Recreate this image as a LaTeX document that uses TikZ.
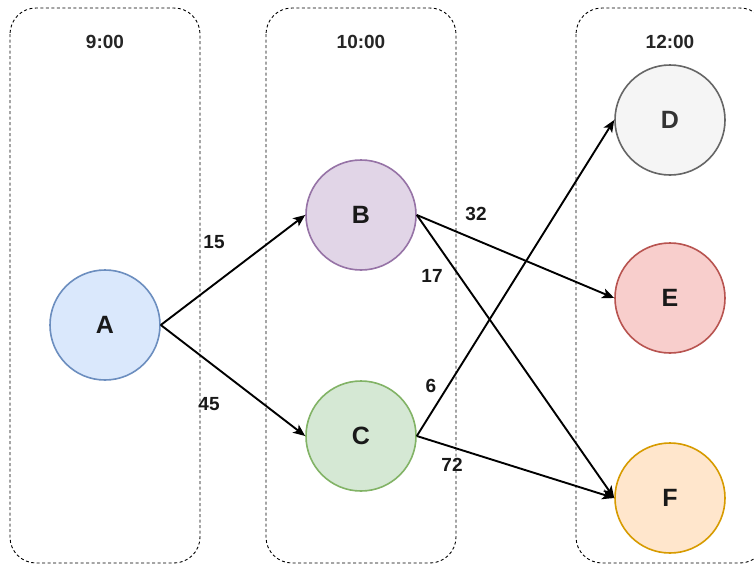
\documentclass[tikz,border=0pt]{standalone}
\usepackage{fontspec}
\setmainfont{Liberation Sans}
\usetikzlibrary{arrows.meta}
\definecolor{afill}{HTML}{DAE8FC}\definecolor{aline}{HTML}{6C8EBF}
\definecolor{bfill}{HTML}{E1D5E7}\definecolor{bline}{HTML}{9673A6}
\definecolor{cfill}{HTML}{D5E8D4}\definecolor{cline}{HTML}{82B366}
\definecolor{dfill}{HTML}{F5F5F5}\definecolor{dline}{HTML}{666666}\definecolor{dtext}{HTML}{333333}
\definecolor{efill}{HTML}{F8CECC}\definecolor{eline}{HTML}{B85450}
\definecolor{ffill}{HTML}{FFE6CC}\definecolor{fline}{HTML}{D79B00}
\tikzset{
  lane/.style={draw=black, line width=0.9pt, dash pattern=on 3pt off 2.5pt, rounded corners=26pt},
  lanelabel/.style={font=\fontsize{19}{21}\selectfont\bfseries, text=black!85},
  state/.style={circle, minimum size=110pt, inner sep=0pt, line width=1.6pt, font=\fontsize{25}{27}\selectfont\bfseries, text=black!90},
  arr/.style={line width=1.9pt, -{Stealth[length=12pt,width=10pt,inset=3pt]}},
  wlabel/.style={font=\fontsize{19}{21}\selectfont\bfseries, text=black!90, inner sep=0pt},
}
\begin{document}
\begin{tikzpicture}[x=1pt,y=-1pt]
\useasboundingbox (0,0) rectangle (754,565);
\fill[white] (0,0) rectangle (754,565);
% lanes
\draw[lane] (10,8) rectangle (200,563);
\draw[lane] (266,8) rectangle (456,563);
\draw[lane] (576,8) rectangle (766,563);
\node[lanelabel] (l9) at (105,42) {9:00};
\node[lanelabel] (l10) at (361,42) {10:00};
\node[lanelabel] (l12) at (670,42) {12:00};
% states
\node[state, draw=aline, fill=afill] (A) at (105,325) {A};
\node[state, draw=bline, fill=bfill] (B) at (361,215) {B};
\node[state, draw=cline, fill=cfill] (C) at (361,436) {C};
\node[state, draw=dline, fill=dfill, text=dtext] (D) at (670,120) {D};
\node[state, draw=eline, fill=efill] (E) at (670,298) {E};
\node[state, draw=fline, fill=ffill] (F) at (670,498) {F};
% transitions
\draw[arr] (A.east) -- (B.west);
\draw[arr] (A.east) -- (C.west);
\draw[arr] (B.east) -- (E.west);
\draw[arr] (B.east) -- (F.west);
\draw[arr] (C.east) -- (D.west);
\draw[arr] (C.east) -- (F.west);
% weights
\node[wlabel] (w15) at (214,242) {15};
\node[wlabel] (w45) at (209,404) {45};
\node[wlabel] (w32) at (476,214) {32};
\node[wlabel] (w17) at (432,276) {17};
\node[wlabel] (w6) at (431,386) {6};
\node[wlabel] (w72) at (452,465) {72};
\end{tikzpicture}
\end{document}
